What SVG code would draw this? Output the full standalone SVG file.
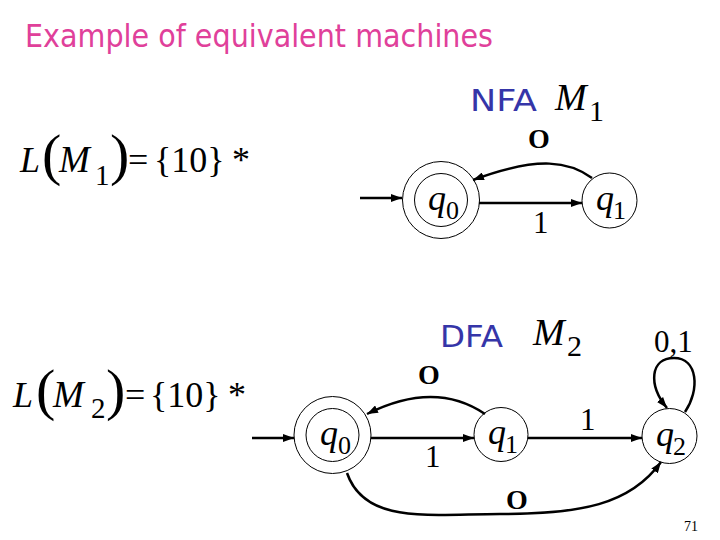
<svg xmlns="http://www.w3.org/2000/svg" width="720" height="540" viewBox="0 0 720 540">
<style>
.title{font-family:"DejaVu Sans",sans-serif;font-size:32px;fill:#e0409a}
.kind{font-family:"DejaVu Sans",sans-serif;font-size:30px;fill:#3535a8}
.ser{font-family:"Liberation Serif",serif;fill:#000}
.it{font-style:italic}
.st{fill:none;stroke:#000;stroke-width:1}
.edge{fill:none;stroke:#000;stroke-width:2.5}
.lbl{font-family:"Liberation Serif",serif;font-size:31px;fill:#000}
.o{font-family:"Liberation Serif",serif;font-size:28px;font-weight:bold;fill:#000}
</style>
<defs>
<marker id="ah" markerUnits="userSpaceOnUse" markerWidth="11" markerHeight="8" refX="11" refY="4" orient="auto">
<path d="M0,0 L11,4 L0,8 z" fill="#000"/>
</marker>
</defs>
<rect width="720" height="540" fill="#fff"/>
<text class="title" x="25" y="47" textLength="468" lengthAdjust="spacingAndGlyphs">Example of equivalent machines</text>

<g id="formula1" class="ser">
<text class="it" x="20" y="172" font-size="36">L</text>
<text x="42" y="174" font-size="58">(</text>
<text class="it" x="59" y="172" font-size="37">M</text>
<text x="95" y="185" font-size="29">1</text>
<text x="110" y="174" font-size="58">)</text>
<text x="128" y="172" font-size="36">=</text>
<text x="154" y="172" font-size="36">{10}</text>
<text x="232" y="172" font-size="36">*</text>
</g>
<g id="formula2" class="ser">
<text class="it" x="13" y="407" font-size="36">L</text>
<text x="36" y="409" font-size="58">(</text>
<text class="it" x="53" y="407" font-size="37">M</text>
<text x="91" y="418" font-size="29">2</text>
<text x="106" y="409" font-size="58">)</text>
<text x="125" y="407" font-size="36">=</text>
<text x="150" y="407" font-size="36">{10}</text>
<text x="228" y="407" font-size="36">*</text>
</g>

<g id="nfa-title">
<text class="kind" x="470" y="111" textLength="67" lengthAdjust="spacingAndGlyphs">NFA</text>
<text class="ser it" x="555" y="110" font-size="38">M</text>
<text class="ser" x="589" y="121" font-size="30">1</text>
</g>
<g id="dfa-title">
<text class="kind" x="440" y="347" textLength="63" lengthAdjust="spacingAndGlyphs">DFA</text>
<text class="ser it" x="533" y="345" font-size="38">M</text>
<text class="ser" x="567" y="356" font-size="30">2</text>
</g>

<g id="connectors">
<path class="edge" d="M360,198 L402,198" marker-end="url(#ah)"/>
<path class="edge" d="M479,203 L582,203" marker-end="url(#ah)"/>
<path class="edge" d="M592,178 C570,162 540,155 473,180" marker-end="url(#ah)"/>
<path class="edge" d="M252,438 L294,438" marker-end="url(#ah)"/>
<path class="edge" d="M371,438 L474,438" marker-end="url(#ah)"/>
<path class="edge" d="M528,438 L642,438" marker-end="url(#ah)"/>
<path class="edge" d="M485,414 Q435,380 367,414" marker-end="url(#ah)"/>
<path class="edge" d="M685,412 C700,390 698,358 674,358 C650,358 648,385 667,408" marker-end="url(#ah)"/>
<path class="edge" d="M347,473 C365,525 430,514 500,514 C580,514 630,505 661,462" marker-end="url(#ah)"/>
<text class="o" x="528" y="148">O</text>
<text class="lbl" x="533" y="233">1</text>
<text class="o" x="418" y="384">O</text>
<text class="lbl" x="425" y="467">1</text>
<text class="lbl" x="580" y="430">1</text>
<text class="lbl" x="654" y="352" font-size="36">0,1</text>
<text class="o" x="506" y="509">O</text>
</g>

<g id="nfa-q0">
<circle class="st" cx="441" cy="200" r="38.5"/>
<circle class="st" cx="441" cy="200" r="26.5"/>
<text class="ser it" x="428" y="210" font-size="36">q</text>
<text class="ser" x="446" y="219" font-size="26">0</text>
</g>
<g id="nfa-q1">
<circle class="st" cx="609.5" cy="200.5" r="27.5"/>
<text class="ser it" x="596" y="210" font-size="36">q</text>
<text class="ser" x="613" y="219" font-size="26">1</text>
</g>

<g id="dfa-q0">
<circle class="st" cx="332.5" cy="435" r="38.5"/>
<circle class="st" cx="332.5" cy="435" r="26.5"/>
<text class="ser it" x="320" y="445" font-size="36">q</text>
<text class="ser" x="338" y="454" font-size="26">0</text>
</g>
<g id="dfa-q1">
<circle class="st" cx="501" cy="434.5" r="27"/>
<text class="ser it" x="488" y="444" font-size="36">q</text>
<text class="ser" x="505" y="453" font-size="26">1</text>
</g>
<g id="dfa-q2">
<circle class="st" cx="669.5" cy="436" r="27.5"/>
<text class="ser it" x="656" y="446" font-size="36">q</text>
<text class="ser" x="673" y="455" font-size="26">2</text>
</g>

<text class="ser" x="684" y="531" font-size="14">71</text>
</svg>
